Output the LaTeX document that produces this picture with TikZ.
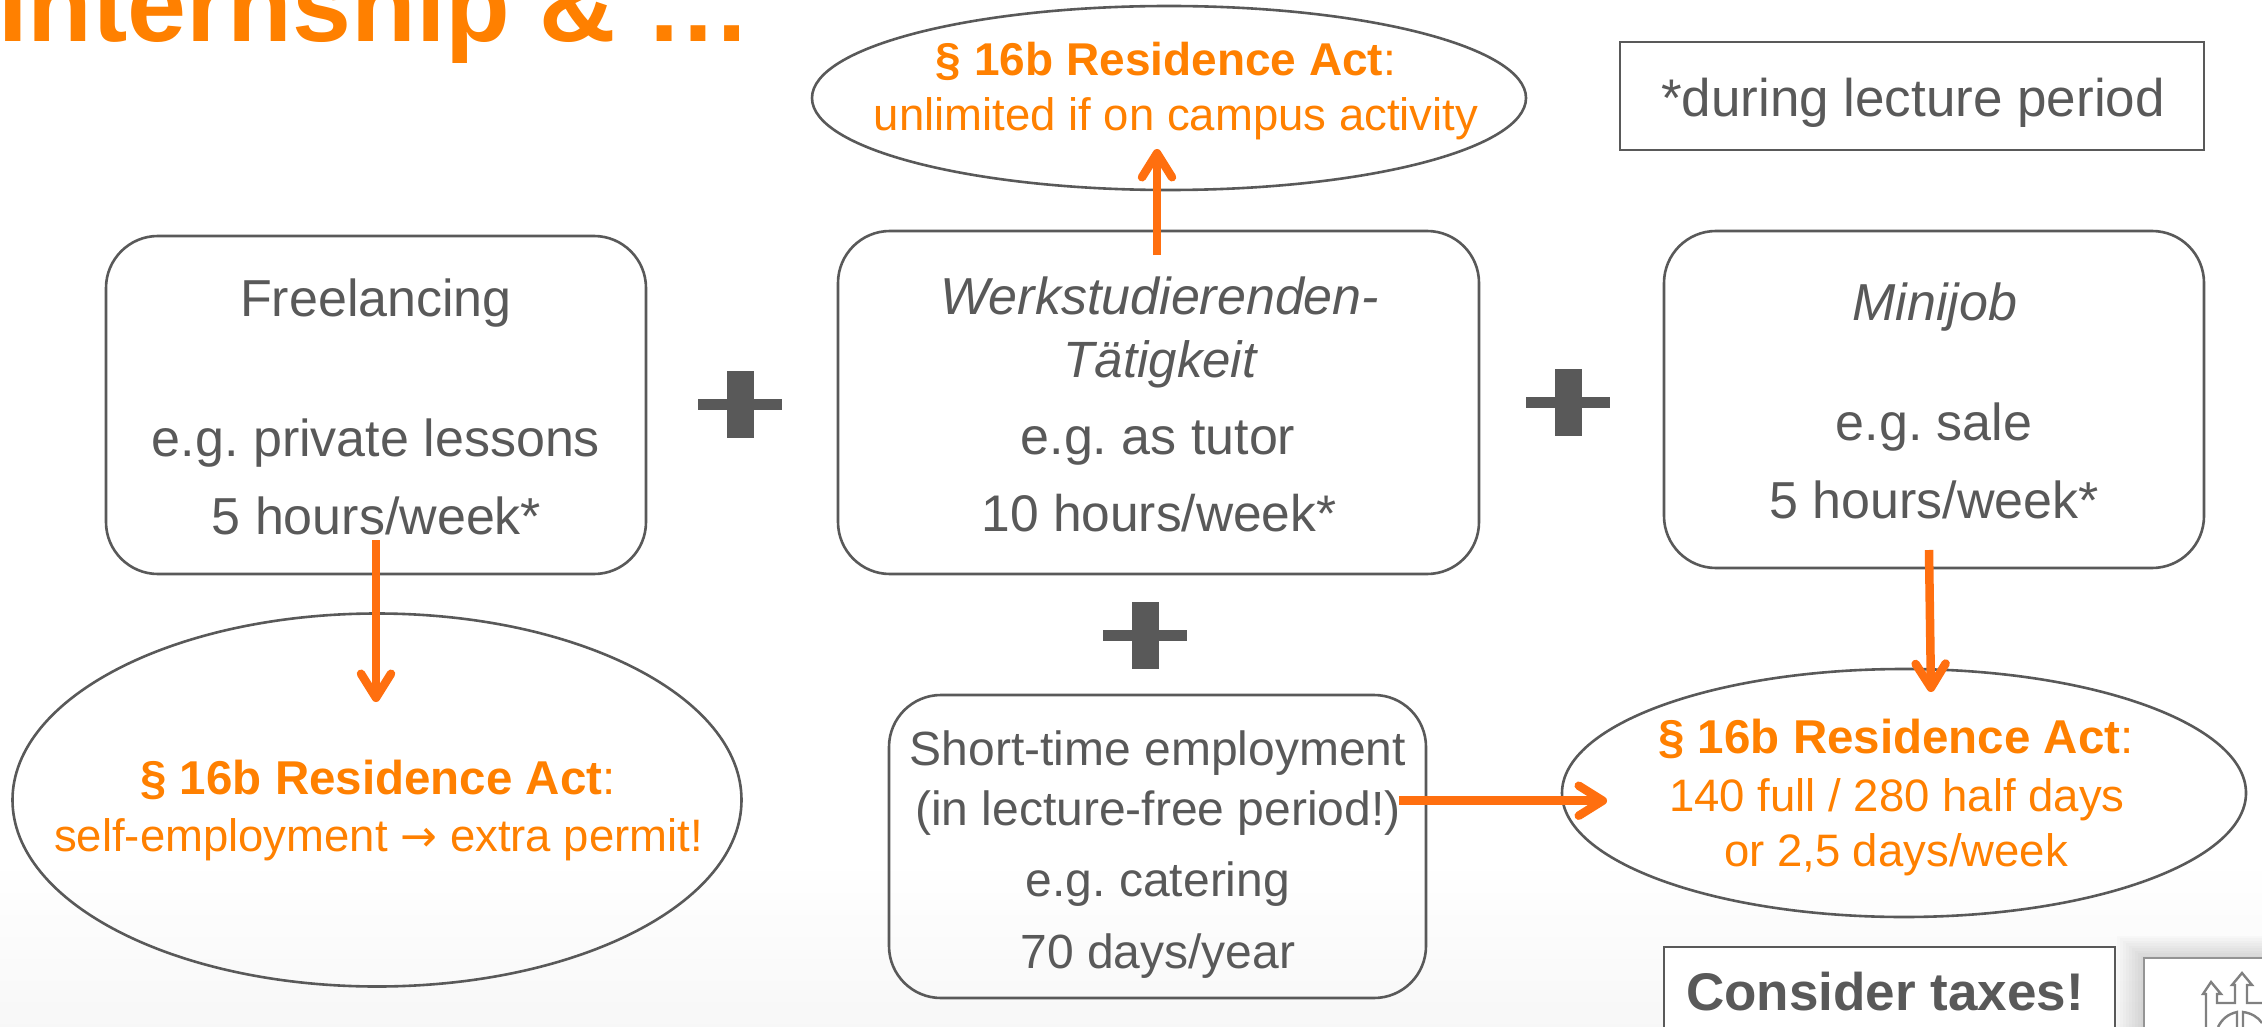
\documentclass[tikz,border=0pt]{standalone}
\usepackage{fontspec}
\setmainfont{Liberation Sans}
\newfontfamily\arrowfont{DejaVu Sans}
\usetikzlibrary{arrows.meta,shapes.geometric,positioning,fadings}
\definecolor{ink}{HTML}{595959}
\definecolor{org}{HTML}{FF8000}
\definecolor{arr}{HTML}{FF6F0F}
\tikzset{
  x=1pt,y=-1pt,
  rbox/.style={draw=ink,line width=2.6pt,rounded corners=52pt,fill=none,inner sep=0pt},
  sbox/.style={draw=ink,line width=2pt,fill=white,inner sep=0pt},
  ell/.style={draw=ink,line width=2.6pt,ellipse,inner sep=0pt,fill=none},
  txt/.style={anchor=base,text=ink,font=\fontsize{52}{60}\selectfont,inner sep=0pt},
  stxt/.style={anchor=base,text=ink,font=\fontsize{48}{60}\selectfont,inner sep=0pt},
  otxt/.style={anchor=base,text=org,font=\fontsize{45.5}{56}\selectfont,inner sep=0pt},
  btxt/.style={anchor=base,text=org,font=\fontsize{47.5}{56}\selectfont,inner sep=0pt},
  arrowline/.style={draw=arr,line width=8.5pt,-{Straight Barb[length=24pt,width=30pt,round,line width=8.5pt]}},
  plusbar/.style={fill=ink,draw=none,inner sep=0pt},
  crest/.style={draw=black!50,line width=2.4pt,line join=miter},
}
\newcommand{\plussign}[3]{%
  \node[plusbar,minimum width=84pt,minimum height=11pt] (#1h) at (#2,#3) {};
  \node[plusbar,minimum width=27pt,minimum height=67pt] (#1v) at (#2,#3) {};}
\begin{document}
\frenchspacing
\begin{tikzpicture}
\useasboundingbox (0,0) rectangle (2262,1027);
\fill[white] (0,0) rectangle (2262,1027);
\shade[top color=white,bottom color=black!3] (0,860) rectangle (2262,1027);
% title
\node[anchor=base west,text=org,inner sep=0pt,font=\fontsize{106}{110}\selectfont\bfseries] (title) at (-2,42) {Internship \& …};
% boxes
\node[rbox,minimum width=540pt,minimum height=338pt] (free) at (376,405) {};
\node[rbox,minimum width=641pt,minimum height=343pt] (werk) at (1158.5,402.5) {};
\node[rbox,minimum width=540pt,minimum height=337pt] (mini) at (1934,399.5) {};
\node[rbox,minimum width=537pt,minimum height=303pt] (short) at (1157.5,846.5) {};
\node[ell,minimum width=714pt,minimum height=184pt] (etop) at (1169,98) {};
\node[ell,minimum width=729pt,minimum height=373pt] (eleft) at (377,800) {};
\node[ell,minimum width=684pt,minimum height=248pt] (eright) at (1904,793) {};
\node[sbox,minimum width=584pt,minimum height=108pt] (note) at (1912,96) {};
% logo
\foreach \i in {1,...,9}{\fill[black,opacity=.014] (2144-\i*3,958-\i*2.5) rectangle (2262,1027);}
\node[draw=black!42,line width=2pt,fill=white,minimum width=160pt,minimum height=110pt,inner sep=0pt] (logo) at (2224,1013) {};
\draw[crest] (2206,1027) -- (2206,994) -- (2203,994) -- (2211,982) -- (2221,994) -- (2217,994) -- (2217,1003) -- (2235,1003) -- (2235,985) -- (2232,985) -- (2242,973) -- (2252,985) -- (2247,985) -- (2247,1003) -- (2262,1003);
\draw[crest] (2218,1027) .. controls (2222,1019) and (2228,1014) .. (2237,1012) -- (2237,1027);
\draw[crest] (2243,1027) -- (2243,1012) .. controls (2251,1013) and (2258,1017) .. (2262,1023);
% plus signs
\plussign{pa}{740}{404}
\plussign{pb}{1568}{402}
\plussign{pc}{1145}{635}
% texts
\node[txt] (t1) at (376,316) {Freelancing};
\node[txt] (t2) at (376,456) {e.g. private lessons};
\node[txt] (t3) at (376.5,534) {5 hours/week*};
\node[txt] (t4) at (1160,314) {\itshape Werkstudierenden-};
\node[txt,font=\fontsize{51}{60}\selectfont] (t5) at (1160,377) {\itshape Tätigkeit};
\node[txt] (t6) at (1158,454) {e.g. as tutor};
\node[txt,font=\fontsize{51.5}{60}\selectfont] (t7) at (1159,531) {10 hours/week*};
\node[txt] (t8) at (1935,320) {\itshape Minijob};
\node[txt] (t9) at (1934,440) {e.g. sale};
\node[txt] (t10) at (1934,518) {5 hours/week*};
\node[stxt] (t11) at (1158,765) {Short-time employment};
\node[stxt] (t12) at (1158,825) {(in lecture-free period!)};
\node[stxt] (t13) at (1158,896) {e.g. catering};
\node[stxt] (t14) at (1158,968) {70 days/year};
\node[txt,font=\fontsize{53}{60}\selectfont] (t15) at (1913,117) {*during lecture period};
\node[otxt,font=\fontsize{46}{56}\selectfont] (o1) at (1166,76) {\textbf{§ 16b Residence Act}:};
\node[otxt] (o2) at (1176,131) {unlimited if on campus activity};
\node[btxt] (o3) at (378,794) {\textbf{§ 16b Residence Act}:};
\node[otxt] (o4) at (378.5,851) {self-employment {\arrowfont\fontsize{44}{56}\selectfont →} extra permit!};
\node[btxt] (o5) at (1896,753) {\textbf{§ 16b Residence Act}:};
\node[otxt] (o6) at (1897,811) {140 full / 280 half days};
\node[otxt] (o7) at (1896,866) {or 2,5 days/week};
\node[sbox,minimum width=451pt,minimum height=90pt] (tax) at (1889.5,992) {};
\node[txt,font=\fontsize{53}{60}\selectfont\bfseries] (t16) at (1885,1010) {Consider taxes!};
% arrows
\coordinate (a1s) at (376,540); \coordinate (a1e) at (376,702);
\coordinate (a2s) at (1157,255); \coordinate (a2e) at (1157,149);
\coordinate (a3s) at (1929,550); \coordinate (a3e) at (1931,692);
\coordinate (a4s) at (1399,800.7); \coordinate (a4e) at (1607,800.7);
\draw[arrowline] (a1s) -- (a1e);
\draw[arrowline] (a2s) -- (a2e);
\draw[arrowline] (a3s) -- (a3e);
\draw[arrowline] (a4s) -- (a4e);
\end{tikzpicture}
\end{document}
